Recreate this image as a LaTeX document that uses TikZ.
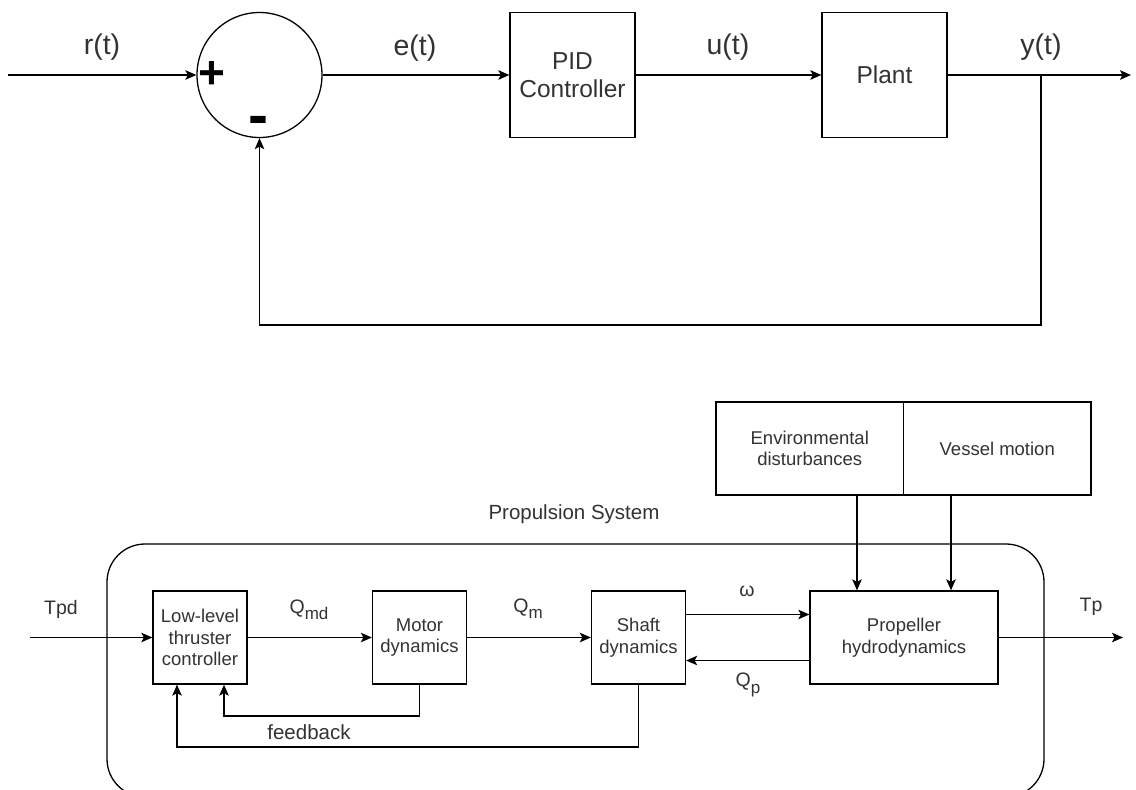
\documentclass[tikz,border=0pt]{standalone}
\usepackage{fontspec}
\setmainfont{Liberation Sans}
\usetikzlibrary{arrows.meta,calc}
\definecolor{txt}{HTML}{333333}
\newcommand{\lowsub}[1]{\raisebox{-0.32em}{\fontsize{17}{17}\selectfont #1}}
\tikzset{
  line/.style={line width=1.3pt, draw=black},
  arr/.style={line, -{Stealth[length=11pt,width=9.5pt,inset=2.5pt]}},
  bigbox/.style={line, rectangle, minimum width=125pt, minimum height=125pt, align=center, font=\fontsize{24.5}{28}\selectfont, text=txt, inner sep=0pt},
  smallbox/.style={line, rectangle, minimum width=94pt, minimum height=93pt, align=center, font=\fontsize{18.5}{21.5}\selectfont, text=txt, inner sep=0pt},
  toplab/.style={font=\fontsize{28.5}{32}\selectfont, text=txt},
  botlab/.style={font=\fontsize{19.5}{22}\selectfont, text=txt},
}
\begin{document}
\begin{tikzpicture}[x=1pt,y=-1pt]
\useasboundingbox (0,0) rectangle (1136,790);
\fill[white] (0,0) rectangle (1136,790);
\clip (0,0) rectangle (1136,790);
% ---------- top loop ----------
\node[line, circle, minimum size=125pt, inner sep=0pt] (sum) at (259.5,75) {};
\node[font=\fontsize{46}{46}\selectfont\bfseries, text=black, inner sep=0pt] (plus) at (211.5,75) {+};
\node[font=\fontsize{60}{60}\selectfont\bfseries, text=black, inner sep=0pt] (minus) at (258.5,126) {-};
\node[bigbox] (pid) at (572.5,75) {PID\\Controller};
\node[bigbox] (plant) at (884.5,75) {Plant};
\coordinate (rin) at (8,75);
\coordinate (yout) at (1131,75);
\coordinate (yb) at (1041,75);
\coordinate (fbc) at (1041,325);
\draw[arr] (rin) -- (sum.west);
\draw[arr] (sum.east) -- (pid.west);
\draw[arr] (pid.east) -- (plant.west);
\draw[arr] (plant.east) -- (yout);
\draw[arr] (yb) -- (fbc) -| (sum.south);
\node[toplab] (rl) at (102,47) {r(t)};
\node[toplab] (el) at (415,48) {e(t)};
\node[toplab] (ul) at (728,47) {u(t)};
\node[toplab] (yl) at (1041,47) {y(t)};
% ---------- bottom: propulsion system ----------
\draw[line, rounded corners=38pt] (107,544) rectangle (1044,797);
\node[font=\fontsize{20.5}{24}\selectfont, text=txt] (ps) at (574,514) {Propulsion System};
\node[line, rectangle, minimum width=187.5pt, minimum height=93pt, inner sep=0pt, align=center, font=\fontsize{18.5}{21.5}\selectfont, text=txt] (env) at (809.75,448.5) {Environmental\\disturbances};
\node[line, rectangle, minimum width=187.5pt, minimum height=93pt, inner sep=0pt, align=center, font=\fontsize{18.5}{21.5}\selectfont, text=txt] (ves) at (997.25,448.5) {Vessel motion};
\node[smallbox] (low) at (200,637.5) {Low-level\\thruster\\controller};
\node[smallbox] (mot) at (419.5,637.5) {Motor\\dynamics};
\node[smallbox] (sha) at (638.5,637.5) {Shaft\\dynamics};
\node[smallbox, minimum width=188pt] (pro) at (904,637.5) {Propeller\\hydrodynamics};
\coordinate (tin) at (30,637.5);
\coordinate (tout) at (1123,637.5);
\draw[arr] (tin) -- (low.west);
\draw[arr] (low.east) -- (mot.west);
\draw[arr] (mot.east) -- (sha.west);
\draw[arr] ([yshift=23pt]sha.east) -- ([yshift=23pt]sha.east -| pro.west);
\draw[arr] ([yshift=-23pt]pro.west) -- ([yshift=-23pt]pro.west -| sha.east);
\draw[arr] (pro.east) -- (tout);
\draw[arr] (env.south -| 857,0) -- (pro.north -| 857,0);
\draw[arr] (ves.south -| 951,0) -- (pro.north -| 951,0);
\coordinate (fb1) at (419.5,716);
\coordinate (fb2) at (638.5,747);
\draw[arr] (mot.south) -- (fb1) -| ([xshift=24pt]low.south);
\draw[arr] (sha.south) -- (fb2) -| ([xshift=-23pt]low.south);
\node[botlab] (tpd) at (61,609) {Tpd};
\node[botlab] (qmd) at (309,610) {Q\lowsub{md}};
\node[botlab] (qm) at (528,609) {Q\lowsub{m}};
\node[botlab] (om) at (747,591) {ω};
\node[botlab] (qp) at (748,685) {Q\lowsub{p}};
\node[botlab] (tp) at (1091,607) {Tp};
\node[botlab, font=\fontsize{20.5}{24}\selectfont] (fbl) at (309,732) {feedback};
\end{tikzpicture}
\end{document}
